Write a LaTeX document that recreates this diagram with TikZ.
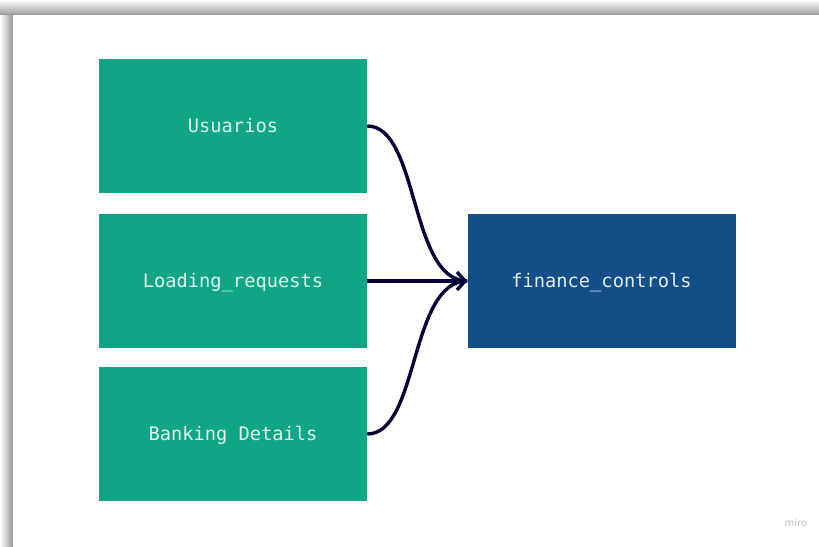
\documentclass[tikz,border=0pt]{standalone}
\usepackage{fontspec}
\setmonofont{DejaVu Sans Mono}
\setsansfont{DejaVu Sans}
\usetikzlibrary{arrows.meta}
\definecolor{greenbox}{HTML}{10A685}
\definecolor{bluebox}{HTML}{134F86}
\definecolor{greentext}{HTML}{DDF7EE}
\definecolor{bluetext}{HTML}{E2ECF6}
\definecolor{arrowcol}{HTML}{050038}
\definecolor{shade}{HTML}{979797}
\tikzset{
  entity/.style={minimum width=268pt, minimum height=134pt, inner sep=0pt,
    text height=13.6pt, text depth=0pt,
    font=\ttfamily\fontsize{18.7}{20}\selectfont},
  greenent/.style={entity, fill=greenbox, text=greentext},
  blueent/.style={entity, fill=bluebox, text=bluetext},
  link/.style={draw=arrowcol, line width=3.4pt},
  tip/.style={-{Straight Barb[length=8pt,width=18pt,line width=3.4pt]}}
}
\begin{document}
\begin{tikzpicture}[x=1pt,y=-1pt]
\useasboundingbox (0,0) rectangle (819,546);
% shadow of the frame
\shade[top color=white, bottom color=shade] (0,0) rectangle (819,15);
\shade[left color=white, right color=shade] (0,15) rectangle (13,546);
\fill[white] (13,15) rectangle (819,546);
% nodes
\node[greenent] (usu) at (233,126) {Usuarios};
\node[greenent] (load) at (233,281) {Loading\_requests};
\node[greenent] (bank) at (233,434) {Banking Details};
\node[blueent] (fin) at (601.5,281) {finance\_controls};
% connectors
\draw[link] (usu.east) .. controls +(52,0) and +(-58,0) .. (fin.west);
\draw[link] (bank.east) .. controls +(52,0) and +(-58,0) .. (fin.west);
\draw[link,tip] (load.east) -- (fin.west);
% watermark
\node[font=\sffamily\fontsize{10}{12}\selectfont, text=black!25] (miro) at (796,523) {miro};
\end{tikzpicture}
\end{document}
